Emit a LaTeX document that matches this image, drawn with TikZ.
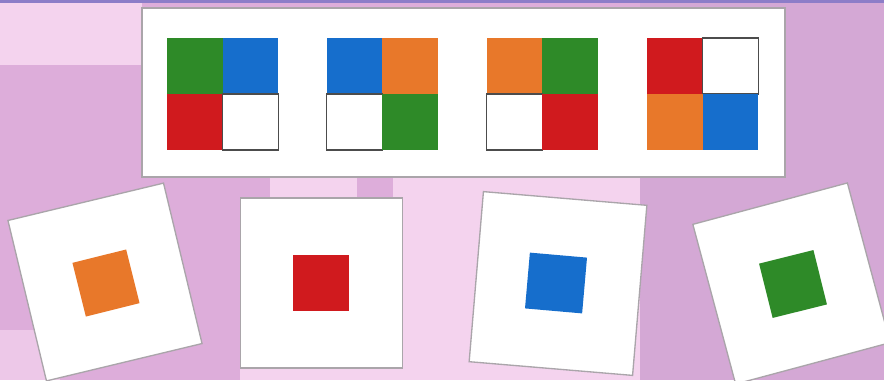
\documentclass[tikz,border=0pt]{standalone}
\definecolor{bgmid}{RGB}{221,173,218}
\definecolor{bglight}{RGB}{244,211,238}
\definecolor{bgright}{RGB}{212,168,213}
\definecolor{bgtop}{RGB}{140,125,200}
\definecolor{cgreen}{RGB}{46,138,40}
\definecolor{cblue}{RGB}{22,110,204}
\definecolor{cred}{RGB}{208,26,30}
\definecolor{corange}{RGB}{232,120,42}
\definecolor{edgegray}{RGB}{170,165,170}
\begin{document}
\begin{tikzpicture}[x=0.75pt,y=-0.75pt,
  panelbox/.style={draw=edgegray, line width=1pt, fill=white, inner sep=0pt, outer sep=0pt},
  cardbox/.style={draw=edgegray, line width=1pt, fill=white, inner sep=0pt, outer sep=0pt},
  cellbox/.style={anchor=north west, inner sep=0pt, outer sep=0pt, minimum width=41.8pt, minimum height=42pt},
  blankcell/.style={cellbox, fill=white, draw=black!70, line width=0.9pt},
  swatch/.style={inner sep=0pt, outer sep=0pt, minimum width=42pt, minimum height=42pt}]
\useasboundingbox (0,0) rectangle (884,380);
\clip (0,0) rectangle (884,380);
% background
\fill[bgmid] (0,0) rectangle (884,380);
\fill[bgright] (640,0) rectangle (884,380);
\fill[bglight] (0,0) rectangle (142,65);
\fill[bglight] (270,178) rectangle (357,200);
\fill[bglight] (393,178) rectangle (640,380);
\fill[bglight] (240,362) rectangle (480,380);
\fill[bglight!70!bgmid] (0,330) rectangle (60,380);
\fill[bgtop] (0,0) rectangle (884,3);
% top panel
\node[panelbox, anchor=north west, minimum width=482.25pt, minimum height=126.75pt] (panel) at (142,8) {};
% grid 1
\node[cellbox, fill=cgreen] (g1a) at (167,38) {};
\node[cellbox, fill=cblue] (g1b) at (222.7,38) {};
\node[cellbox, fill=cred] (g1c) at (167,94) {};
\node[blankcell] (g1d) at (222.7,94) {};
% grid 2
\node[cellbox, fill=cblue] (g2a) at (326.5,38) {};
\node[cellbox, fill=corange] (g2b) at (382.2,38) {};
\node[blankcell] (g2c) at (326.5,94) {};
\node[cellbox, fill=cgreen] (g2d) at (382.2,94) {};
% grid 3
\node[cellbox, fill=corange] (g3a) at (486.5,38) {};
\node[cellbox, fill=cgreen] (g3b) at (542.2,38) {};
\node[blankcell] (g3c) at (486.5,94) {};
\node[cellbox, fill=cred] (g3d) at (542.2,94) {};
% grid 4
\node[cellbox, fill=cred] (g4a) at (647,38) {};
\node[blankcell] (g4b) at (702.7,38) {};
\node[cellbox, fill=corange] (g4c) at (647,94) {};
\node[cellbox, fill=cblue] (g4d) at (702.7,94) {};
% cards
\node[cardbox, rotate=13.5, minimum width=120pt, minimum height=123.75pt] (card1) at (105,282) {};
\node[swatch, fill=corange, rotate=14, minimum width=41.5pt, minimum height=41.5pt] (sq1) at (106,283) {};
\node[cardbox, minimum width=121.5pt, minimum height=127.5pt] (card2) at (321.5,283) {};
\node[swatch, fill=cred] (sq2) at (321,283) {};
\node[cardbox, rotate=-4.8, minimum width=123pt, minimum height=128pt] (card3) at (558,283.5) {};
\node[swatch, fill=cblue, rotate=-5, minimum width=43pt] (sq3) at (556,283) {};
\node[cardbox, rotate=15, minimum width=120pt, minimum height=124pt] (card4) at (791.5,283.5) {};
\node[swatch, fill=cgreen, rotate=14] (sq4) at (793,284) {};
\end{tikzpicture}
\end{document}
